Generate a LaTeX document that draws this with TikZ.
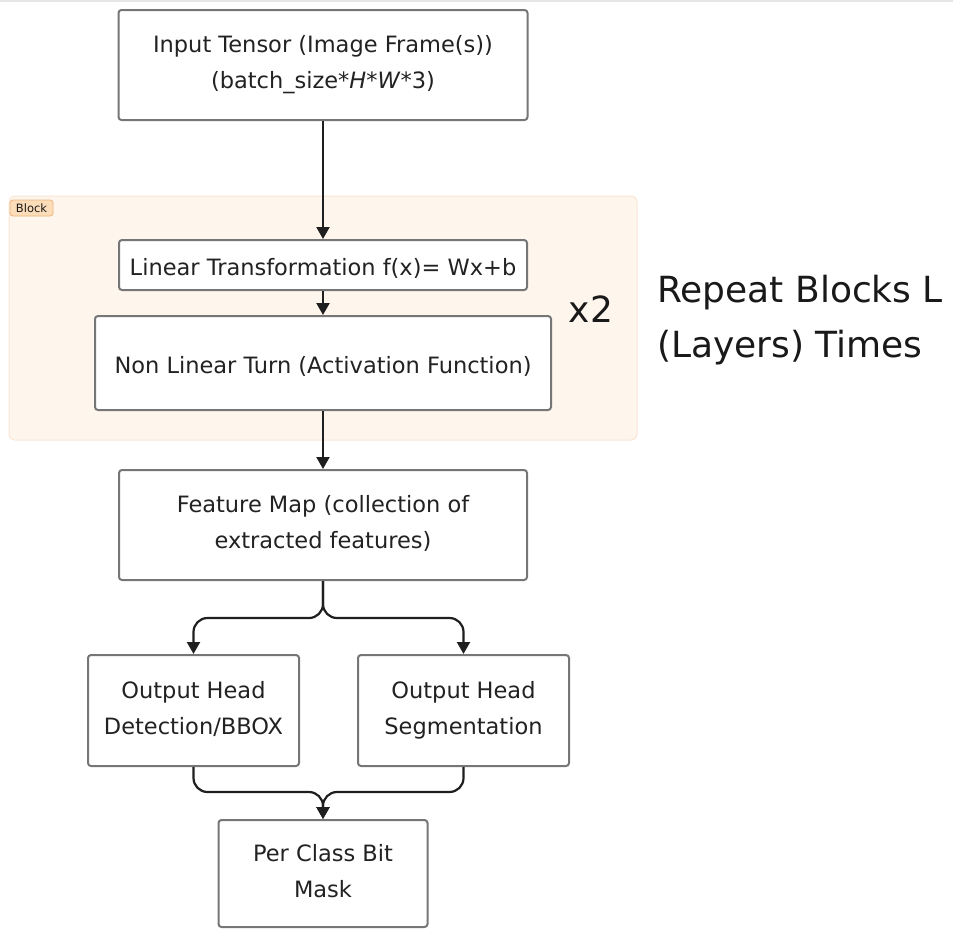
\documentclass[tikz,border=0pt]{standalone}
\usepackage{fontspec}
\setmainfont{DejaVu Sans}
\usetikzlibrary{positioning, arrows.meta}
\definecolor{boxline}{RGB}{118,118,118}
\definecolor{txt}{RGB}{34,34,34}
\definecolor{blockfill}{RGB}{254,245,236}
\definecolor{blockline}{RGB}{250,230,212}
\definecolor{tagfill}{RGB}{252,221,186}
\definecolor{tagline}{RGB}{238,180,125}
\newcommand{\boxstrut}{\rule[-6pt]{0pt}{32pt}}

\begin{document}
\begin{tikzpicture}[x=1pt, y=-1pt,
        box/.style={draw=boxline, line width=2pt, rounded corners=3pt, fill=white,
          align=center, text=txt, inner sep=0pt, font=\fontsize{22.5}{36}\selectfont,
          execute at begin node=\boxstrut, execute at end node=\boxstrut},
        arr/.style={draw=black!88, line width=2.2pt, -{Triangle[length=12pt,width=13pt]}},
        big/.style={text=black!90, inner sep=0pt, font=\fontsize{36}{40}\selectfont}]
    \useasboundingbox (0,0) rectangle (953,929);
    \draw[black!10, line width=1.5pt] (0,1) -- (953,1);

    % repeated block area
    \node[fill=blockfill, draw=blockline, line width=1pt, rounded corners=6pt,
      minimum width=628pt, minimum height=244pt] (block) at (323,318) {};
    \node[fill=tagfill, draw=tagline, line width=0.8pt, rounded corners=3pt, inner sep=0pt,
      minimum width=43pt, minimum height=16pt, text=black!90,
      font=\fontsize{11.5}{12}\selectfont] (tag) at (31.5,208) {Block};

    % layers
    \node[box, minimum width=409pt, minimum height=110pt] (inp) at (323,65)
      {Input Tensor (Image Frame(s))\\(batch\_size*\textit{H}*\textit{W}*3)};
    \node[box, minimum width=408pt, minimum height=50pt] (lin) at (323,265)
      {Linear Transformation f(x)= Wx+b};
    \node[box, minimum width=456pt, minimum height=94pt] (act) at (323,363)
      {Non Linear Turn (Activation Function)};
    \node[box, minimum width=408pt, minimum height=110pt] (feat) at (323,525)
      {Feature Map (collection of\\extracted features)};

    % heads
    \node[box, minimum width=211pt, minimum height=111pt] (det) at (193.5,710.5)
      {Output Head\\Detection/BBOX};
    \node[box, minimum width=211pt, minimum height=111pt] (seg) at (463.5,710.5)
      {Output Head\\Segmentation};
    \node[box, minimum width=209pt, minimum height=107pt] (mask) at (323,873.5)
      {Per Class Bit\\Mask};

    \node[big, anchor=base] (twice) at (591,322) {x2};
    \node[big, anchor=base west] (rep) at (657,302) {Repeat Blocks L};
    \node[big, anchor=base west] (rep2) at (657,357) {(Layers) Times};

    \coordinate (fork) at (323,618);
    \coordinate (join) at (323,792);

    \draw[arr] (inp) -- (lin);
    \draw[arr] (lin) -- (act);
    \draw[arr] (act) -- (feat);
    \draw[arr, rounded corners=14pt] (feat.south) -- (fork) -| (det.north);
    \draw[arr, rounded corners=14pt] (feat.south) -- (fork) -| (seg.north);
    \draw[arr, rounded corners=14pt] (det.south) |- (join) -- (mask.north);
    \draw[arr, rounded corners=14pt] (seg.south) |- (join) -- (mask.north);
\end{tikzpicture}
\end{document}
